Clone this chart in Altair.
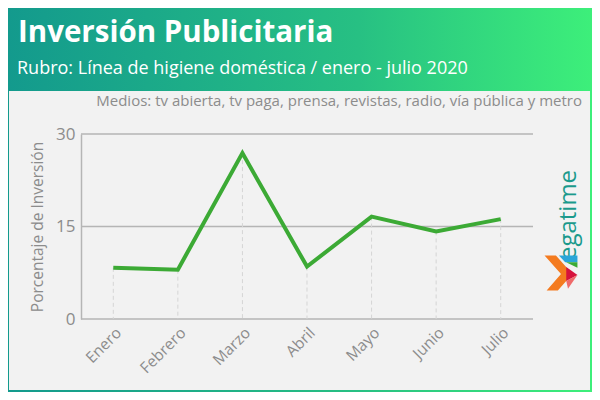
import altair as alt
import pandas as pd

months = ["Enero", "Febrero", "Marzo", "Abril", "Mayo", "Junio", "Julio"]
values = [8.3, 8.0, 26.9, 8.5, 16.6, 14.2, 16.2]
y_ticks = [0, 15, 30]

title_text = "Inversión Publicitaria"
subtitle_text = "Rubro: Línea de higiene doméstica / enero - julio 2020"
medios_text = "Medios: tv abierta, tv paga, prensa, revistas, radio, vía pública y metro"
y_title = "Porcentaje de Inversión"
logo_text = "egatime"

FONT = "Open Sans"
GRAY = "#8c8c8c"
GRID = "#b5b5b5"

df = pd.DataFrame({"mes": months, "valor": values})
ticks_df = pd.DataFrame({"valor": y_ticks})
one = pd.DataFrame({"k": [0]})

W, H = 452, 185

x_enc = alt.X("mes:N", sort=months, scale=alt.Scale(type="point", padding=0.5),
              axis=alt.Axis(title=None, labelAngle=-45, labelFontSize=15.5, labelColor=GRAY,
                            labelFont=FONT, ticks=False, domain=False, grid=False,
                            labelPadding=6, zindex=1))
y_scale = alt.Scale(domain=[0, 30], nice=False)
y_enc = alt.Y("valor:Q", scale=y_scale,
              axis=alt.Axis(values=y_ticks, title=y_title, titleFont=FONT, titleFontSize=15.5,
                            titleFontWeight="normal", titleColor=GRAY, titlePadding=10,
                            labelFont=FONT, labelFontSize=17, labelColor=GRAY, labelPadding=6,
                            ticks=False, domain=True, domainColor=GRID, domainWidth=1.5,
                            grid=False, zindex=1))

bg = alt.Chart(one).mark_rect(
    color=alt.Gradient(gradient="linear",
                       stops=[alt.GradientStop(color="#139a8d", offset=0),
                              alt.GradientStop(color="#27c083", offset=0.6),
                              alt.GradientStop(color="#3def7a", offset=1)],
                       x1=0, x2=1, y1=0, y2=0)
).encode(x=alt.value(-73), x2=alt.value(511), y=alt.value(-126), y2=alt.value(258))

panel = alt.Chart(one).mark_rect(color="#f2f2f2").encode(
    x=alt.value(-72), x2=alt.value(509), y=alt.value(-43), y2=alt.value(256))

def txt(s, x, y, size, color, weight="normal", align="left", angle=0, baseline="alphabetic"):
    return alt.Chart(pd.DataFrame({"t": [s]})).mark_text(
        font=FONT, fontSize=size, color=color, fontWeight=weight, align=align,
        baseline=baseline, angle=angle
    ).encode(text="t:N", x=alt.value(x), y=alt.value(y))

title = txt(title_text, -63, -92, 29.5, "white", weight="bold")
subtitle = txt(subtitle_text, -64, -60, 18, "white")
medios = txt(medios_text, 501, -28, 15, GRAY, align="right")
logo = txt(logo_text, 488, 81, 24, "#1b9a8c", align="center", angle=270, baseline="middle")

def piece(path, color):
    return alt.Chart(one).mark_point(shape=path, filled=True, color=color, opacity=1,
                                     size=1225, strokeWidth=0).encode(
        x=alt.value(480), y=alt.value(139))

icon = [
    piece("M -0.94 -1 L -0.29 -1 L 0.65 0.06 L -0.18 1 L -0.82 1 L 0 0.06 Z", "#f47b20"),
    piece("M -0.12 -1 L 0.94 -1 L 0.94 -0.62 L 0.24 -0.62 Z", "#2aa6d8"),
    piece("M 0.29 -0.62 L 0.94 -0.62 L 0.94 -0.3 Z", "#3aaa35"),
    piece("M 0.3 -0.35 L 0.94 0.12 L 0.3 0.45 Z", "#d6123c"),
    piece("M 0.3 0.45 L 0.94 0.12 L 0.4 0.9 Z", "#ef6a6a"),
]

grid = alt.Chart(ticks_df).mark_rule(color=GRID, strokeWidth=1.5).encode(
    y=alt.Y("valor:Q", scale=y_scale), x=alt.value(0), x2=alt.value(W))

base = alt.Chart(df).encode(x=x_enc)
drops = base.mark_rule(color="#d5d5d5", strokeDash=[4, 3], strokeWidth=1).encode(
    y=y_enc, y2=alt.datum(0))
line = base.mark_line(color="#3caa35", strokeWidth=4).encode(y=y_enc)

chart = alt.layer(bg, panel, title, subtitle, medios, logo, *icon, grid, drops, line).properties(
    width=W, height=H,
    padding={"left": 73, "top": 126, "right": 59, "bottom": 73},
    autosize=alt.AutoSizeParams(type="none"),
    background="white",
).configure_view(stroke=None).configure_axis(labelFont=FONT, titleFont=FONT)

chart.save("out.html", embed_options={"renderer": "svg", "actions": False})
